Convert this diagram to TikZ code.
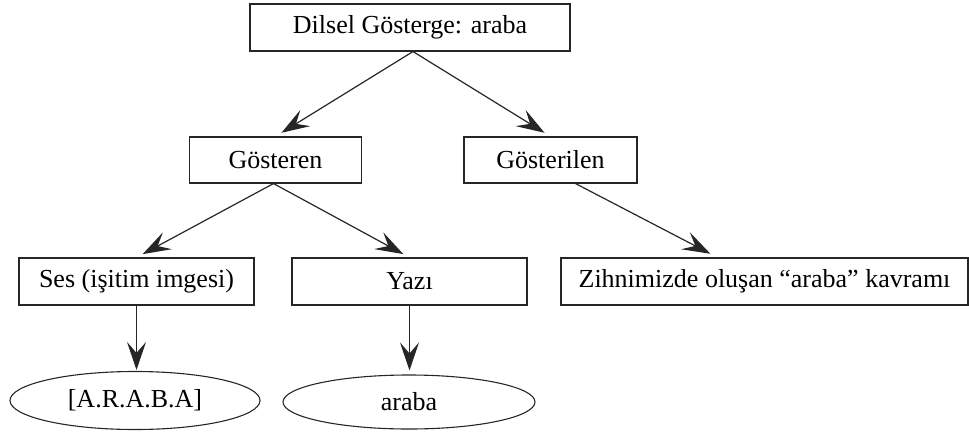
\documentclass[tikz,border=0pt]{standalone}
\usepackage{fontspec}
\setmainfont{Liberation Serif}
\usetikzlibrary{arrows.meta,shapes.geometric}
\begin{document}
\begin{tikzpicture}[x=1pt,y=-1pt,
  box/.style={draw=black!85,line width=1.1pt,rectangle,inner sep=0pt,font=\fontsize{26}{30}\selectfont},
  oval/.style={draw=black!85,line width=1.1pt,ellipse,inner sep=0pt,font=\fontsize{26}{30}\selectfont},
  link/.style={draw=black!85,line width=1.2pt,-{Stealth[length=28pt,width=19pt,inset=11pt]}}]
\useasboundingbox (0,0) rectangle (969,434);
\node[box,minimum width=320pt,minimum height=47pt] (top) at (410,27.5) {Dilsel Gösterge: araba};
\node[box,minimum width=172pt,minimum height=46pt] (gen) at (275.5,160) {Gösteren};
\node[box,minimum width=173pt,minimum height=46pt] (len) at (550.5,160) {Gösterilen};
\node[box,minimum width=235pt,minimum height=47pt] (ses) at (136.5,281.5) {Ses (işitim imgesi)};
\node[box,minimum width=235pt,minimum height=47pt] (yazi) at (409.5,281.5) {Yazı};
\node[box,minimum width=407pt,minimum height=47pt] (zihn) at (764.5,281.5) {Zihnimizde oluşan “araba” kavramı};
\node[oval,minimum width=250pt,minimum height=58pt] (e1) at (135,400.5) {[A.R.A.B.A]};
\node[oval,minimum width=252pt,minimum height=54pt] (e2) at (409,402) {araba};
\draw[link,shorten >=7pt] ([xshift=3pt]top.south) -- (gen.north);
\draw[link,shorten >=7pt] ([xshift=3pt]top.south) -- (len.north);
\draw[link,shorten >=7pt] ([xshift=-2pt]gen.south) -- (ses.north);
\draw[link,shorten >=7pt] ([xshift=-2pt]gen.south) -- (yazi.north);
\draw[link,shorten >=8pt] ([xshift=25pt]len.south) -- ([xshift=-47pt]zihn.north);
\draw[link,shorten >=1pt] (ses.south) -- (ses.south |- e1.north);
\draw[link,shorten >=4pt] (yazi.south) -- (yazi.south |- e2.north);
\end{tikzpicture}
\end{document}
